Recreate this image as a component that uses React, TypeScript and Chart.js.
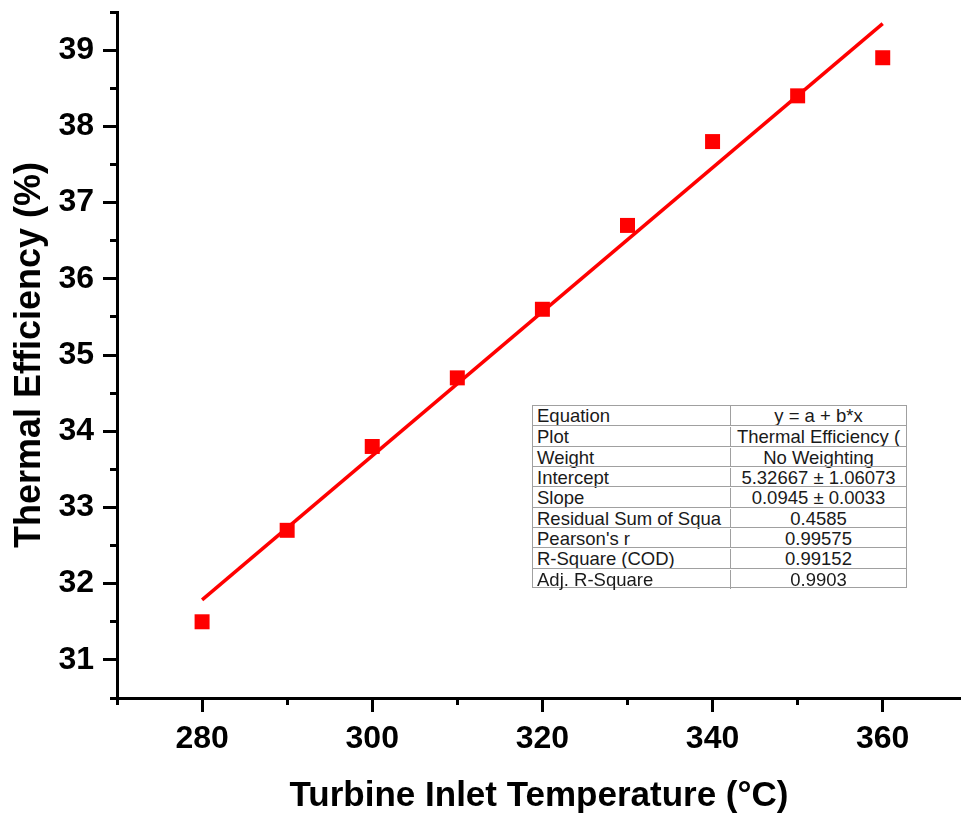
import React, { useEffect, useRef } from "react";
import { Chart, registerables } from "chart.js";

Chart.register(...registerables);

const temperatures = [280, 290, 300, 310, 320, 330, 340, 350, 360];
const efficiencies = [31.5, 32.7, 33.8, 34.7, 35.6, 36.7, 37.8, 38.4, 38.9];
const fitIntercept = 5.32667;
const fitSlope = 0.0945;
const fitRangeX = [280, 360];
const xMajorTicks = [280, 300, 320, 340, 360];
const xMinorTicks = [270, 280, 290, 300, 310, 320, 330, 340, 350, 360];
const yMajorTicks = [31, 32, 33, 34, 35, 36, 37, 38, 39];
const yMinorTicks = [30.5, 31, 31.5, 32, 32.5, 33, 33.5, 34, 34.5, 35, 35.5, 36, 36.5, 37, 37.5, 38, 38.5, 39, 39.5];
const tableLabels = [
  "Equation",
  "Plot",
  "Weight",
  "Intercept",
  "Slope",
  "Residual Sum of Squa",
  "Pearson's r",
  "R-Square (COD)",
  "Adj. R-Square",
];
const tableValues = [
  "y = a + b*x",
  "Thermal Efficiency (",
  "No Weighting",
  "5.32667 ± 1.06073",
  "0.0945 ± 0.0033",
  "0.4585",
  "0.99575",
  "0.99152",
  "0.9903",
];

const FONT = "'Liberation Sans', Arial, Helvetica, sans-serif";

function zeroPad(s: any) {
  s.paddingLeft = 0;
  s.paddingRight = 0;
  s.paddingTop = 0;
  s.paddingBottom = 0;
}

export default function App() {
  const canvasRef = useRef<HTMLCanvasElement | null>(null);

  useEffect(() => {
    document.body.style.margin = "0";
    const canvas = canvasRef.current;
    if (!canvas) return;
    const chart = new Chart(canvas, {
      type: "scatter",
      data: {
        datasets: [
          {
            type: "scatter",
            label: "Thermal Efficiency",
            data: temperatures.map((t, i) => ({ x: t, y: efficiencies[i] })),
            backgroundColor: "#ff0000",
            borderColor: "#ff0000",
            pointStyle: "rect",
            pointRadius: 10.6,
            pointHoverRadius: 10.6,
            pointBorderWidth: 0,
            xAxisID: "x",
            yAxisID: "y",
            order: 0,
          },
          {
            type: "line",
            label: "Linear Fit",
            data: fitRangeX.map((t) => ({ x: t, y: fitIntercept + fitSlope * t })),
            borderColor: "#ff0000",
            borderWidth: 3.5,
            pointRadius: 0,
            fill: false,
            xAxisID: "x",
            yAxisID: "y",
            order: 1,
          } as any,
        ],
      },
      options: {
        responsive: false,
        animation: false,
        layout: { autoPadding: false, padding: { top: 12, left: 0, right: 0, bottom: 0 } },
        plugins: {
          legend: { display: false },
          tooltip: { enabled: false },
        },
        scales: {
          x: {
            type: "linear",
            position: "bottom",
            min: 270,
            max: 369.2,
            weight: 1,
            afterBuildTicks: (s: any) => {
              s.ticks = xMajorTicks.map((v) => ({ value: v }));
            },
            afterFit: (s: any) => {
              s.height = 119;
              zeroPad(s);
            },
            grid: { drawOnChartArea: false, drawTicks: true, tickLength: 14, tickWidth: 3, tickColor: "#000" },
            border: { display: true, color: "#000", width: 3 },
            ticks: {
              autoSkip: false,
              maxRotation: 0,
              padding: 8,
              color: "#000",
              font: { family: FONT, size: 32, weight: "bold" },
            },
            title: {
              display: true,
              text: "Turbine Inlet Temperature (°C)",
              color: "#000",
              font: { family: FONT, size: 35, weight: "bold" },
              padding: { top: 0, bottom: 0 },
            },
          },
          x2: {
            type: "linear",
            position: "bottom",
            min: 270,
            max: 369.2,
            weight: 0,
            afterBuildTicks: (s: any) => {
              s.ticks = xMinorTicks.map((v) => ({ value: v }));
            },
            afterFit: (s: any) => {
              s.height = 0;
              zeroPad(s);
            },
            grid: { drawOnChartArea: false, drawTicks: true, tickLength: 7, tickWidth: 3, tickColor: "#000" },
            border: { display: false },
            ticks: { display: false },
          },
          y: {
            type: "linear",
            position: "left",
            min: 30.5,
            max: 39.5,
            weight: 1,
            afterBuildTicks: (s: any) => {
              s.ticks = yMajorTicks.map((v) => ({ value: v }));
            },
            afterFit: (s: any) => {
              s.width = 117;
              zeroPad(s);
            },
            grid: { drawOnChartArea: false, drawTicks: true, tickLength: 14, tickWidth: 3, tickColor: "#000" },
            border: { display: true, color: "#000", width: 3 },
            ticks: {
              autoSkip: false,
              padding: 9,
              color: "#000",
              font: { family: FONT, size: 32, weight: "bold" },
            },
            title: {
              display: true,
              text: "Thermal Efficiency (%)",
              color: "#000",
              font: { family: FONT, size: 36, weight: "bold" },
              padding: { top: 8, bottom: 0 },
            },
          },
          y2: {
            type: "linear",
            position: "left",
            min: 30.5,
            max: 39.5,
            weight: 0,
            afterBuildTicks: (s: any) => {
              s.ticks = yMinorTicks.map((v) => ({ value: v }));
            },
            afterFit: (s: any) => {
              s.width = 0;
              zeroPad(s);
            },
            grid: { drawOnChartArea: false, drawTicks: true, tickLength: 7, tickWidth: 3, tickColor: "#000" },
            border: { display: false },
            ticks: { display: false },
          },
        },
      } as any,
    });
    return () => chart.destroy();
  }, []);

  const rowH = 183 / tableLabels.length;
  return (
    <div style={{ position: "relative", width: 961, height: 817, overflow: "hidden", background: "#fff" }}>
      <canvas ref={canvasRef} width={961} height={817} style={{ display: "block" }} />
      <div
        style={{
          position: "absolute",
          left: 532,
          top: 405,
          width: 375,
          height: 183,
          boxSizing: "border-box",
          border: "1px solid #a0a0a0",
          background: "#fff",
          fontFamily: FONT,
          fontSize: 18.5,
          color: "#1a1a1a",
        }}
      >
        {tableLabels.map((lab, i) => (
          <div
            key={lab}
            style={{
              position: "absolute",
              left: 0,
              right: 0,
              top: i * rowH - 1,
              height: rowH,
              boxSizing: "border-box",
              borderTop: i > 0 ? "1px solid #a0a0a0" : "none",
              display: "flex",
            }}
          >
            <div
              style={{
                width: 198,
                boxSizing: "border-box",
                borderRight: "1px solid #a0a0a0",
                paddingLeft: 4,
                lineHeight: rowH + "px",
                whiteSpace: "nowrap",
                overflow: "visible",
                position: "relative",
                top: 1,
              }}
            >
              {lab}
            </div>
            <div
              style={{
                flex: 1,
                textAlign: "center",
                lineHeight: rowH + "px",
                whiteSpace: "nowrap",
                position: "relative",
                top: 1,
              }}
            >
              {tableValues[i]}
            </div>
          </div>
        ))}
      </div>
    </div>
  );
}
